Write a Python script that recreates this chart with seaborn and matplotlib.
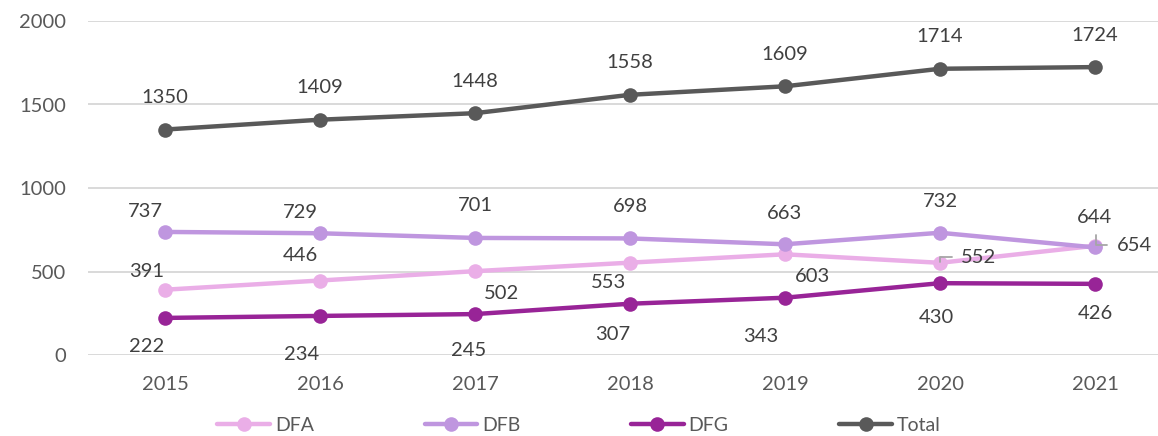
import matplotlib
matplotlib.use("Agg")
import matplotlib.pyplot as plt
from matplotlib.lines import Line2D
import pandas as pd
import seaborn as sns

years = [2015, 2016, 2017, 2018, 2019, 2020, 2021]
dfa = [391, 446, 502, 553, 603, 552, 654]
dfb = [737, 729, 701, 698, 663, 732, 644]
dfg = [222, 234, 245, 307, 343, 430, 426]
total = [1350, 1409, 1448, 1558, 1609, 1714, 1724]
series_names = ["DFA", "DFB", "DFG", "Total"]

colors = {"DFA": "#EAAEE7", "DFB": "#BF96DF", "DFG": "#982497", "Total": "#595959"}

# label offsets in pixels (dx right, dy down) from each marker
offsets = {
    "Total": [(0, -32)] * 7,
    "DFB": [(-20, -20), (-20, -21), (0, -32), (0, -32), (0, -31), (0, -31), (0, -30)],
    "DFA": [(-18, -18), (-20, -25), (27, 22), (-21, 20), (28, 22), (39, -5), (39, 0)],
    "DFG": [(-18, 29), (-18, 39), (-6, 36), (-17, 31), (-24, 39), (-4, 34), (0, 30)],
}

values = {"DFA": dfa, "DFB": dfb, "DFG": dfg, "Total": total}
df = pd.DataFrame(
    [(y, name, v) for name in series_names for y, v in zip(years, values[name])],
    columns=["year", "series", "value"],
)

sns.set_theme(style="white")
plt.rcParams["font.family"] = ["Lato", "DejaVu Sans"]

W, H = 1158, 436
fig = plt.figure(figsize=(W / 100, H / 100), dpi=100)
ax = fig.add_axes([88 / W, (H - 355) / H, (W - 88) / W, (355 - 21) / H])

sns.lineplot(
    data=df, x="year", y="value", hue="series", hue_order=series_names,
    palette=colors, marker="o", markersize=10.5, markeredgewidth=0,
    linewidth=3.2, legend=False, ax=ax,
)

ax.set_xlim(2015 - 77 / 155, 2015 + (W - 165) / 155)
ax.set_ylim(0, 2000)
ax.set_yticks([0, 500, 1000, 1500, 2000])
ax.set_xticks(years)
ax.set_xticklabels([str(y) for y in years])
ax.set_xlabel("")
ax.set_ylabel("")
ax.yaxis.grid(True, color="#D9D9D9", linewidth=1.4)
ax.xaxis.grid(False)
for s in ax.spines.values():
    s.set_visible(False)
ax.tick_params(axis="y", length=0, pad=16, labelsize=14.5, labelcolor="#595959")
ax.tick_params(axis="x", length=0, pad=15, labelsize=14.5, labelcolor="#595959")

# data labels
for name in series_names:
    for y, v, (dx, dy) in zip(years, values[name], offsets[name]):
        ax.annotate(str(v), xy=(y, v), xytext=(dx, -dy), textcoords="offset pixels",
                    ha="center", va="center", fontsize=14.5, color="#404040")

# small leader lines for the labels placed beside their markers
fig.canvas.draw()
leaders = [
    (2020, 552, [(12, -6), (0, -6), (0, -1)]),
    (2021, 654, [(12, -1), (1, -1), (1, -11)]),
]
for x, v, pts in leaders:
    px, py = ax.transData.transform((x, v))
    fig.add_artist(Line2D([px + a for a, b in pts], [py - b for a, b in pts],
                          transform=None, color="#A6A6A6", linewidth=1.3, zorder=5))

# legend
handles = [Line2D([0], [0], color=colors[n], marker="o", markersize=10.5,
                  markeredgewidth=0, linewidth=3.2) for n in series_names]
leg = fig.legend(handles, series_names, loc="center", bbox_to_anchor=(0.5, (H - 425) / H),
                 ncol=4, frameon=False, fontsize=14, handlelength=2.7,
                 handletextpad=0.25, columnspacing=5.7, borderaxespad=0)
for t in leg.get_texts():
    t.set_color("#595959")

fig.savefig("out.png", dpi=100)
